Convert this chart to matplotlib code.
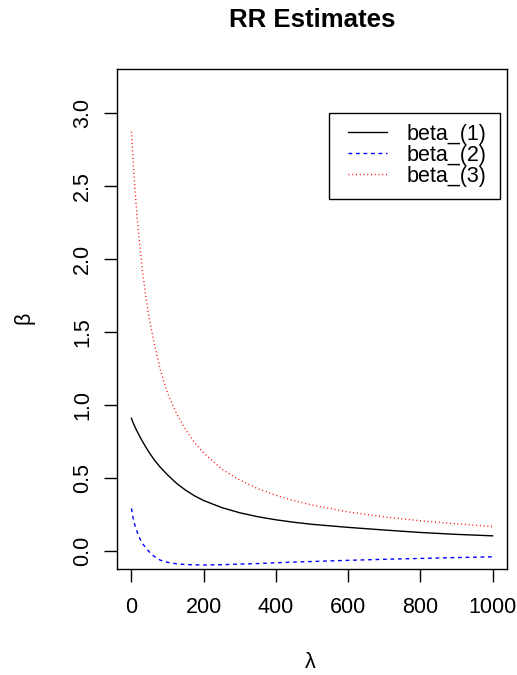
import matplotlib
matplotlib.use("Agg")
import matplotlib.pyplot as plt
from matplotlib.patches import Rectangle

# ---- data ----
lam = [0, 5, 10, 15, 20, 30, 40, 50, 65, 80, 100, 125, 150, 175, 200, 250,
       300, 350, 400, 450, 500, 600, 700, 800, 900, 1000]
beta1 = [0.908, 0.875, 0.848, 0.822, 0.798, 0.752, 0.710, 0.670, 0.617, 0.572,
         0.520, 0.462, 0.415, 0.376, 0.344, 0.296, 0.260, 0.233, 0.212, 0.195,
         0.181, 0.160, 0.142, 0.125, 0.112, 0.102]
beta2 = [0.290, 0.220, 0.170, 0.135, 0.100, 0.050, 0.020, -0.010, -0.043, -0.065,
         -0.080, -0.090, -0.095, -0.097, -0.098, -0.096, -0.092, -0.088, -0.083,
         -0.078, -0.074, -0.066, -0.059, -0.053, -0.047, -0.042]
beta3 = [2.874, 2.660, 2.470, 2.310, 2.170, 1.930, 1.740, 1.580, 1.400, 1.240,
         1.080, 0.940, 0.830, 0.740, 0.670, 0.560, 0.485, 0.425, 0.380, 0.343,
         0.313, 0.266, 0.232, 0.205, 0.184, 0.166]
labels = ["beta_(1)", "beta_(2)", "beta_(3)"]
xticks = [0, 200, 400, 600, 800, 1000]
yticks = [0.0, 0.5, 1.0, 1.5, 2.0, 2.5, 3.0]

plt.rcParams['font.family'] = ['Liberation Sans', 'DejaVu Sans']
FS = 15.5

W, H = 517, 675
fig = plt.figure(figsize=(W / 100, H / 100), dpi=100)
ax = fig.add_axes([117 / W, 1 - 569 / H, 390 / W, 500 / H])

lw = 1.0
ax.plot(lam, beta1, color="black", lw=lw, label=labels[0])
ax.plot(lam, beta2, color="blue", lw=lw, dashes=(2.7, 2.7), label=labels[1])
ax.plot(lam, beta3, color="red", lw=lw, dashes=(0.7, 2.0), label=labels[2])

ax.set_xlim(-40, 1040)
ax.set_ylim(-0.1255, 3.304)
ax.set_xticks(xticks)
ax.set_xticklabels([str(v) for v in xticks])
ax.set_yticks(yticks)
ax.set_yticklabels([f"{v:.1f}" for v in yticks], rotation=90, va="center")

for s in ax.spines.values():
    s.set_color("black")
    s.set_linewidth(1.0)
ax.tick_params(axis="both", direction="out", length=9.6, width=1.0,
               labelsize=FS, colors="black")
ax.tick_params(axis="x", pad=10.5)
ax.tick_params(axis="y", pad=7.5)

# legend box and entries
ax.add_patch(Rectangle((0.5436, 0.74), 0.982 - 0.5436, 0.9114 - 0.74,
                       transform=ax.transAxes, fill=True, facecolor="white",
                       edgecolor="black", lw=1.0, zorder=3))
leg = ax.legend(loc="upper left", bbox_to_anchor=((348 - 117) / 390, (569 - 124) / 500),
                frameon=False, fontsize=FS, handlelength=1.81, handletextpad=0.92,
                labelspacing=0.0, borderpad=0, borderaxespad=0)
leg.set_zorder(4)

fig.text(312 / W, 1 - 26.7 / H, "RR Estimates", ha="center", va="baseline",
         fontsize=18.5, fontweight="bold")
fig.text(310 / W, 1 - 668 / H, "λ", ha="center", va="baseline", fontsize=FS)
fig.text(24 / W, 1 - 318 / H, "β", ha="center", va="center", rotation=90, fontsize=FS)

fig.savefig("out.png", dpi=100)
